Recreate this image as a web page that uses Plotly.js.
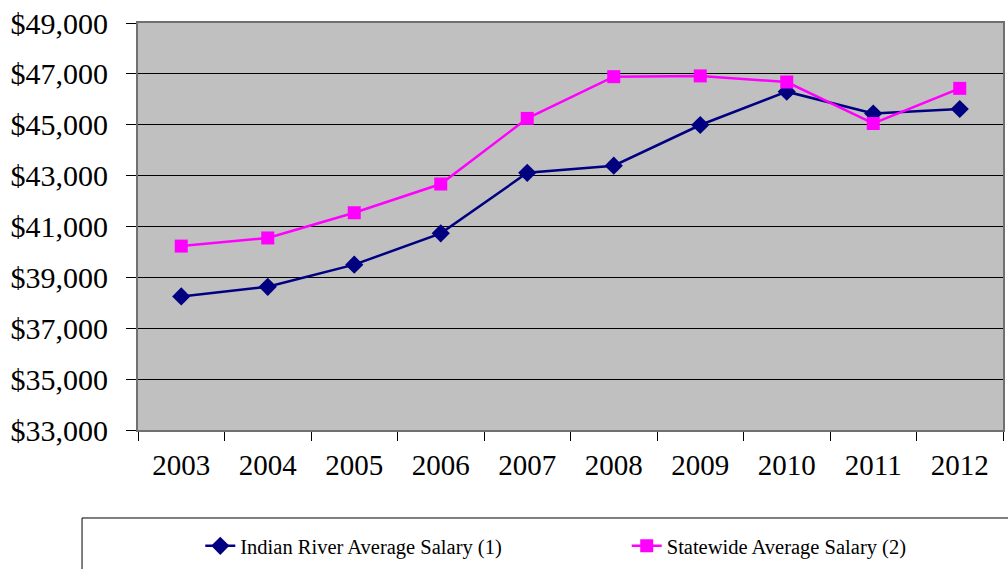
<!DOCTYPE html>
<html>
<head>
<meta charset="utf-8">
<script src="https://cdn.plot.ly/plotly-3.0.1.min.js"></script>
<style>html,body{margin:0;padding:0;background:#fff;}#chart{width:1008px;height:569px;}</style>
</head>
<body>
<div id="chart"></div>
<script>
const years = ['2003','2004','2005','2006','2007','2008','2009','2010','2011','2012'];
const indianRiver = [38250, 38630, 39500, 40730, 43110, 43390, 44990, 46300, 45440, 45620];
const statewide = [40230, 40550, 41540, 42670, 45250, 46890, 46920, 46680, 45050, 46430];
const seriesNames = ['Indian River Average Salary (1)', 'Statewide Average Salary (2)'];

const FONT = 'Liberation Serif, Times New Roman, serif';

const traces = [
  {
    x: years, y: indianRiver, name: seriesNames[0], type: 'scatter', mode: 'lines+markers',
    line: {color: '#000080', width: 2.5},
    marker: {symbol: 'diamond', size: 14, color: '#000080'},
    legend: 'legend'
  },
  {
    x: years, y: statewide, name: seriesNames[1], type: 'scatter', mode: 'lines+markers',
    line: {color: '#FF00FF', width: 2.5},
    marker: {symbol: 'square', size: 13, color: '#FF00FF'},
    legend: 'legend2'
  }
];

const legendBase = {
  orientation: 'h',
  xanchor: 'left',
  y: -0.285, yanchor: 'middle',
  font: {family: FONT, size: 20.5, color: '#000'},
  bgcolor: 'rgba(0,0,0,0)',
  borderwidth: 0
};

const layout = {
  width: 1008, height: 569,
  margin: {l: 138, r: 5, t: 23, b: 139, autoexpand: false},
  paper_bgcolor: '#ffffff',
  plot_bgcolor: '#C0C0C0',
  font: {family: FONT, color: '#000'},
  showlegend: true,
  xaxis: {
    type: 'category',
    range: [-0.5, 9.5],
    automargin: false,
    tickson: 'boundaries',
    ticks: 'outside', ticklen: 9, tickcolor: '#000', tickwidth: 1,
    showline: true, linecolor: '#707070', linewidth: 2, mirror: true,
    showgrid: false, zeroline: false,
    tickfont: {family: FONT, size: 29, color: '#000'},
    ticklabelstandoff: 8,
    fixedrange: true
  },
  yaxis: {
    range: [33000, 49000],
    automargin: false,
    dtick: 2000, tick0: 33000,
    tickprefix: '$', tickformat: ',d',
    ticks: 'outside', ticklen: 10, tickcolor: '#000', tickwidth: 1,
    showline: true, linecolor: '#707070', linewidth: 2, mirror: true,
    showgrid: true, gridcolor: '#000000', gridwidth: 1,
    zeroline: false,
    tickfont: {family: FONT, size: 30, color: '#000'},
    ticklabelstandoff: 12,
    fixedrange: true
  },
  legend: Object.assign({}, legendBase, {x: 0.072}),
  legend2: Object.assign({}, legendBase, {x: 0.565}),
  shapes: [
    {
      type: 'rect', xref: 'paper', yref: 'paper',
      x0: -0.0647, x1: 1.02, y0: -0.2162, y1: -0.4,
      line: {color: '#000', width: 1}, fillcolor: 'rgba(0,0,0,0)', layer: 'below'
    }
  ]
};

Plotly.newPlot('chart', traces, layout, {displayModeBar: false, staticPlot: true});
</script>
</body>
</html>
